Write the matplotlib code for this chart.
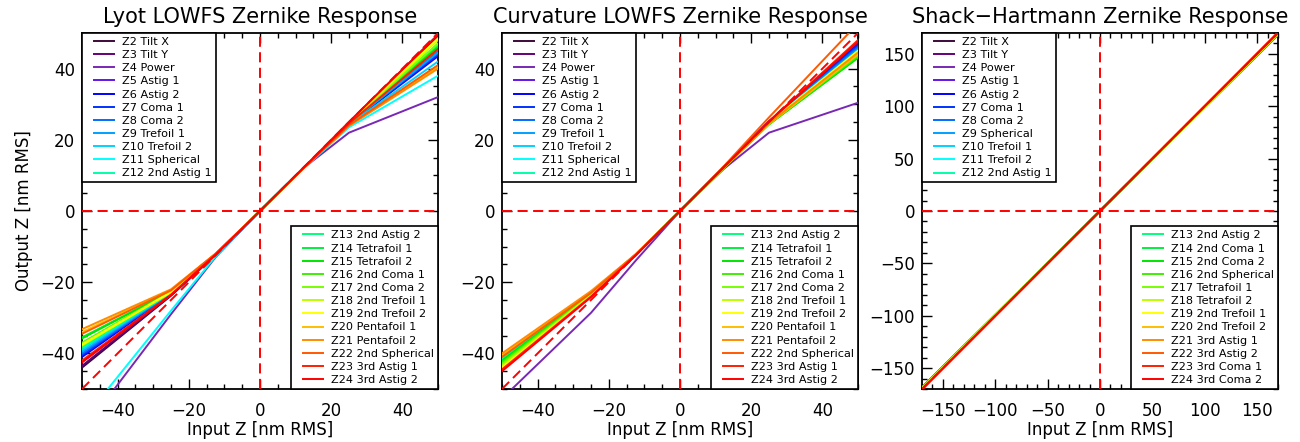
import matplotlib
matplotlib.use("Agg")
import matplotlib.pyplot as plt
from matplotlib.ticker import MultipleLocator
from matplotlib.lines import Line2D
from matplotlib.legend_handler import HandlerLine2D

plt.rcParams['font.family'] = ['DejaVu Sans']

# ---------------- data ----------------
lyot_x = [-50, -25, -12.5, 0, 12.5, 25, 50]
curv_x = [-50, -25, -12.5, 0, 12.5, 25, 50]
sh_x = [-170, -85, 0, 85, 170]

lowfs_labels = ["Z2 Tilt X", "Z3 Tilt Y", "Z4 Power", "Z5 Astig 1", "Z6 Astig 2",
                "Z7 Coma 1", "Z8 Coma 2", "Z9 Trefoil 1", "Z10 Trefoil 2",
                "Z11 Spherical", "Z12 2nd Astig 1", "Z13 2nd Astig 2",
                "Z14 Tetrafoil 1", "Z15 Tetrafoil 2", "Z16 2nd Coma 1",
                "Z17 2nd Coma 2", "Z18 2nd Trefoil 1", "Z19 2nd Trefoil 2",
                "Z20 Pentafoil 1", "Z21 Pentafoil 2", "Z22 2nd Spherical",
                "Z23 3rd Astig 1", "Z24 3rd Astig 2"]

sh_labels = ["Z2 Tilt X", "Z3 Tilt Y", "Z4 Power", "Z5 Astig 1", "Z6 Astig 2",
             "Z7 Coma 1", "Z8 Coma 2", "Z9 Spherical", "Z10 Trefoil 1",
             "Z11 Trefoil 2", "Z12 2nd Astig 1", "Z13 2nd Astig 2",
             "Z14 2nd Coma 1", "Z15 2nd Coma 2", "Z16 2nd Spherical",
             "Z17 Tetrafoil 1", "Z18 Tetrafoil 2", "Z19 2nd Trefoil 1",
             "Z20 2nd Trefoil 2", "Z21 3rd Astig 1", "Z22 3rd Astig 2",
             "Z23 3rd Coma 1", "Z24 3rd Coma 2"]

lyot_out = [
    [-44.0, -23.8, -12.4, 0, 12.4, 25.0, 49.5],
    [-43.5, -23.6, -12.3, 0, 12.4, 24.9, 49.0],
    [-62.0, -29.0, -13.0, 0, 12.3, 22.0, 32.0],
    [-42.5, -23.5, -12.3, 0, 12.4, 24.5, 44.0],
    [-41.0, -23.3, -12.3, 0, 12.4, 24.4, 43.5],
    [-40.5, -23.2, -12.3, 0, 12.4, 24.5, 44.0],
    [-40.0, -23.2, -12.3, 0, 12.4, 24.6, 45.0],
    [-39.5, -23.0, -12.2, 0, 12.4, 24.5, 44.5],
    [-39.0, -23.0, -12.2, 0, 12.4, 24.3, 42.0],
    [-59.0, -28.0, -12.8, 0, 12.2, 23.5, 38.0],
    [-38.5, -22.9, -12.2, 0, 12.4, 24.7, 46.0],
    [-38.0, -22.8, -12.2, 0, 12.4, 24.7, 46.5],
    [-35.5, -22.6, -12.1, 0, 12.4, 24.8, 47.0],
    [-35.8, -22.6, -12.1, 0, 12.4, 24.7, 46.0],
    [-37.0, -22.7, -12.2, 0, 12.4, 24.6, 45.5],
    [-37.2, -22.7, -12.2, 0, 12.4, 24.8, 47.0],
    [-37.8, -22.8, -12.2, 0, 12.4, 24.9, 48.0],
    [-37.5, -22.8, -12.2, 0, 12.4, 25.0, 48.5],
    [-34.0, -22.2, -12.0, 0, 12.3, 24.0, 40.5],
    [-33.2, -22.0, -12.0, 0, 12.3, 23.9, 40.0],
    [-34.5, -22.3, -12.0, 0, 12.3, 24.1, 41.0],
    [-42.0, -23.5, -12.3, 0, 12.4, 24.6, 45.5],
    [-42.5, -23.6, -12.3, 0, 12.4, 25.0, 49.5],
]

curv_out = [
    [-44.0, -23.9, -12.4, 0, 12.5, 25.0, 46.0],
    [-43.8, -23.8, -12.4, 0, 12.5, 25.0, 46.5],
    [-52.7, -28.6, -14.0, 0, 12.0, 22.0, 30.4],
    [-43.5, -23.7, -12.4, 0, 12.5, 25.1, 46.5],
    [-43.5, -23.7, -12.4, 0, 12.5, 25.2, 47.0],
    [-43.0, -23.6, -12.4, 0, 12.5, 25.0, 46.5],
    [-42.5, -23.5, -12.3, 0, 12.5, 25.0, 46.0],
    [-42.0, -23.4, -12.3, 0, 12.5, 24.9, 45.5],
    [-41.5, -23.2, -12.3, 0, 12.5, 24.8, 45.0],
    [-41.0, -23.0, -12.2, 0, 12.4, 24.8, 45.0],
    [-41.5, -23.2, -12.3, 0, 12.4, 24.6, 44.5],
    [-42.0, -23.3, -12.3, 0, 12.4, 24.5, 44.0],
    [-42.5, -23.4, -12.3, 0, 12.4, 24.4, 43.5],
    [-42.0, -23.3, -12.3, 0, 12.4, 24.3, 43.0],
    [-42.5, -23.4, -12.3, 0, 12.4, 24.4, 43.5],
    [-43.0, -23.6, -12.4, 0, 12.4, 24.5, 44.0],
    [-43.5, -23.7, -12.4, 0, 12.4, 24.6, 44.5],
    [-44.0, -23.9, -12.4, 0, 12.5, 24.8, 45.0],
    [-40.5, -22.8, -12.2, 0, 12.4, 24.5, 44.0],
    [-40.0, -22.5, -12.2, 0, 12.4, 24.6, 44.5],
    [-41.0, -23.0, -12.3, 0, 12.8, 26.3, 52.7],
    [-44.5, -24.0, -12.5, 0, 12.5, 25.2, 48.0],
    [-45.0, -24.2, -12.5, 0, 12.5, 25.1, 47.5],
]

sh_out = [
    [-169.5, -84.8, 0, 84.8, 169.5],
    [-169.4, -84.7, 0, 84.7, 169.4],
    [-169.2, -84.6, 0, 84.6, 169.2],
    [-168.8, -84.4, 0, 84.4, 168.8],
    [-168.6, -84.3, 0, 84.3, 168.6],
    [-168.5, -84.2, 0, 84.2, 168.5],
    [-168.7, -84.3, 0, 84.3, 168.7],
    [-168.9, -84.4, 0, 84.4, 168.9],
    [-169.0, -84.5, 0, 84.5, 169.0],
    [-169.1, -84.5, 0, 84.5, 169.1],
    [-168.8, -84.4, 0, 84.4, 168.8],
    [-168.9, -84.4, 0, 84.4, 168.9],
    [-169.0, -84.5, 0, 84.5, 169.0],
    [-168.7, -84.3, 0, 84.3, 168.7],
    [-168.6, -84.3, 0, 84.3, 168.6],
    [-169.2, -84.6, 0, 84.6, 169.2],
    [-169.3, -84.6, 0, 84.6, 169.3],
    [-169.6, -84.8, 0, 84.8, 169.6],
    [-169.8, -84.9, 0, 84.9, 169.8],
    [-170.0, -85.0, 0, 85.0, 170.0],
    [-170.2, -85.1, 0, 85.1, 170.2],
    [-170.4, -85.2, 0, 85.2, 170.4],
    [-170.5, -85.2, 0, 85.2, 170.5],
]

# ---------------- style ----------------
colors = ["#3c0a3c", "#640078", "#7828b4", "#6414e6", "#0000ff", "#0032ff",
          "#006eff", "#00a0ff", "#00d2ff", "#00ffff", "#00ffaa", "#00ff78",
          "#00f03c", "#00e600", "#3cf000", "#78ff00", "#beff00", "#ffff00",
          "#ffbe00", "#ff8c00", "#ff5a00", "#ff1e00", "#ff0000"]

W, H = 1300, 442
fig = plt.figure(figsize=(W / 100, H / 100), dpi=100)

panels = [
    (82, "Lyot LOWFS Zernike Response", lyot_x, lyot_out, lowfs_labels, 50, 20, 5),
    (502, "Curvature LOWFS Zernike Response", curv_x, curv_out, lowfs_labels, 50, 20, 5),
    (922, "Shack\u2212Hartmann Zernike Response", sh_x, sh_out, sh_labels, 170, 50, 10),
]

for i, (left_px, title, xs, outs, labels, lim, major, minor) in enumerate(panels):
    ax = fig.add_axes([left_px / W, (H - 389) / H, 356 / W, 356 / H])
    lines = []
    for j, ys in enumerate(outs):
        ln, = ax.plot(xs, ys, color=colors[j], lw=1.4, label=labels[j], zorder=3)
        lines.append(ln)
    dash = dict(color="red", lw=1.4, ls=(0, (5.2, 2.8)), zorder=4)
    ax.plot([-lim, lim], [-lim, lim], **dash)
    ax.axhline(0, **dash)
    ax.axvline(0, **dash)
    ax.set_xlim(-lim, lim)
    ax.set_ylim(-lim, lim)
    ax.xaxis.set_major_locator(MultipleLocator(major))
    ax.yaxis.set_major_locator(MultipleLocator(major))
    ax.xaxis.set_minor_locator(MultipleLocator(minor))
    ax.yaxis.set_minor_locator(MultipleLocator(minor))
    ax.tick_params(which="both", direction="in", top=True, right=True,
                   width=1.0, colors="black", labelsize=12)
    ax.tick_params(which="major", length=7)
    ax.tick_params(which="minor", length=3.6)
    ax.tick_params(axis="x", pad=9)
    ax.tick_params(axis="y", pad=5)
    for s in ax.spines.values():
        s.set_linewidth(1.3)
    ax.set_title(title, fontsize=15, pad=7)
    ax.set_xlabel("Input Z [nm RMS]", fontsize=12, labelpad=1)
    if i == 0:
        ax.set_ylabel("Output Z [nm RMS]", fontsize=12, labelpad=5)

    legkw = dict(fontsize=8.1, frameon=True, fancybox=False, edgecolor="black",
                 framealpha=1, borderaxespad=0, handlelength=2.5,
                 handletextpad=0.75, labelspacing=0.28, borderpad=0.35,
                 handler_map={Line2D: HandlerLine2D(xpad=0.75)})
    leg1 = ax.legend(lines[:11], labels[:11], loc="upper left", **legkw)
    leg1.get_frame().set_linewidth(1.2)
    leg1.set_zorder(6)
    ax.add_artist(leg1)
    leg2 = ax.legend(lines[11:], labels[11:], loc="lower right", **legkw)
    leg2.get_frame().set_linewidth(1.2)
    leg2.set_zorder(6)

fig.savefig("out.png", dpi=100)
